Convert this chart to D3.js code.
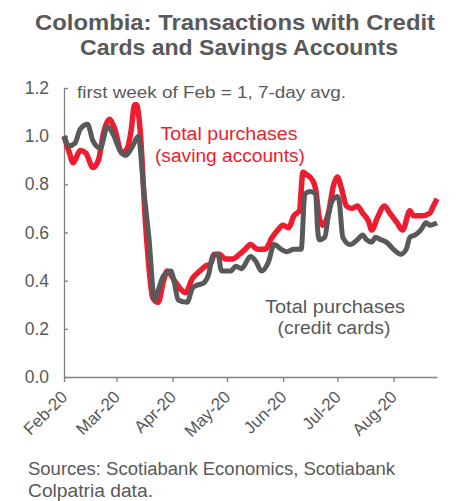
<!DOCTYPE html>
<html><head><meta charset="utf-8">
<script src="https://cdn.jsdelivr.net/npm/d3@7"></script>
<style>body{margin:0;background:#fff;} svg{display:block;font-family:"Liberation Sans",Arial,sans-serif;}</style>
</head><body>
<svg id="c" width="456" height="501"></svg>
<script>
const titleLines = ["Colombia: Transactions with Credit", "Cards and Savings Accounts"];
const yTicks = [0, 0.2, 0.4, 0.6, 0.8, 1.0, 1.2];
const xTickDates = ["2020-02-01","2020-03-01","2020-04-01","2020-05-01","2020-06-01","2020-07-01","2020-08-01"];
const xTickLabels = ["Feb-20","Mar-20","Apr-20","May-20","Jun-20","Jul-20","Aug-20"];

const savingsDates = ["2020-02-01","2020-02-04","2020-02-06","2020-02-10","2020-02-13","2020-02-17","2020-02-20","2020-02-23","2020-02-26","2020-02-29",
"2020-03-04","2020-03-07","2020-03-09","2020-03-11","2020-03-12","2020-03-14","2020-03-17","2020-03-19","2020-03-21","2020-03-24","2020-03-27","2020-03-29",
"2020-04-02","2020-04-06","2020-04-08","2020-04-12","2020-04-16","2020-04-19","2020-04-22","2020-04-24","2020-04-27","2020-04-30",
"2020-05-04","2020-05-08","2020-05-11","2020-05-14","2020-05-18","2020-05-22","2020-05-26","2020-05-29",
"2020-06-01","2020-06-04","2020-06-07","2020-06-10","2020-06-12","2020-06-14","2020-06-17","2020-06-19","2020-06-21","2020-06-23","2020-06-26","2020-06-29",
"2020-07-01","2020-07-03","2020-07-06","2020-07-09","2020-07-12","2020-07-15","2020-07-18","2020-07-20","2020-07-23","2020-07-27","2020-07-30",
"2020-08-03","2020-08-06","2020-08-10","2020-08-12","2020-08-17","2020-08-21","2020-08-23","2020-08-25"];
const savingsValues = [1.00,0.93,0.89,0.94,0.93,0.87,0.90,1.02,1.07,1.03,
0.93,0.95,1.02,1.13,1.13,1.03,0.64,0.45,0.33,0.31,0.40,0.44,
0.40,0.36,0.35,0.41,0.44,0.46,0.47,0.51,0.51,0.49,
0.49,0.51,0.53,0.55,0.53,0.53,0.58,0.61,
0.63,0.62,0.67,0.69,0.85,0.84,0.82,0.78,0.66,0.63,0.68,0.80,
0.83,0.79,0.71,0.70,0.71,0.68,0.65,0.61,0.66,0.71,0.68,
0.64,0.61,0.69,0.67,0.67,0.68,0.71,0.74];

const creditDates = ["2020-02-01","2020-02-04","2020-02-07","2020-02-10","2020-02-14","2020-02-17","2020-02-21","2020-02-25","2020-02-28",
"2020-03-03","2020-03-06","2020-03-10","2020-03-13","2020-03-16","2020-03-19","2020-03-22","2020-03-24","2020-03-27","2020-03-31",
"2020-04-02","2020-04-04","2020-04-09","2020-04-12","2020-04-14","2020-04-18","2020-04-21","2020-04-23","2020-04-26","2020-04-28",
"2020-05-03","2020-05-06","2020-05-09","2020-05-14","2020-05-17","2020-05-20","2020-05-24","2020-05-27","2020-05-31",
"2020-06-03","2020-06-07","2020-06-11","2020-06-13","2020-06-16","2020-06-19","2020-06-20","2020-06-21","2020-06-24","2020-06-26","2020-06-28",
"2020-07-01","2020-07-02","2020-07-04","2020-07-08","2020-07-12","2020-07-15","2020-07-17","2020-07-20","2020-07-22","2020-07-25","2020-07-28",
"2020-08-01","2020-08-05","2020-08-08","2020-08-10","2020-08-13","2020-08-16","2020-08-19","2020-08-21","2020-08-25"];
const creditValues = [1.00,0.96,0.97,1.03,1.05,0.98,0.95,1.04,1.01,
0.94,0.92,0.96,1.00,0.78,0.57,0.32,0.36,0.42,0.44,
0.39,0.32,0.31,0.37,0.38,0.39,0.43,0.50,0.51,0.44,
0.44,0.46,0.45,0.50,0.48,0.44,0.48,0.55,0.53,
0.52,0.53,0.53,0.76,0.77,0.76,0.62,0.57,0.58,0.67,0.73,
0.75,0.73,0.58,0.55,0.57,0.59,0.57,0.56,0.58,0.57,0.56,
0.53,0.51,0.53,0.58,0.59,0.61,0.64,0.63,0.64];

const parse = d3.utcParse("%Y-%m-%d");
const svg = d3.select("#c");
const grey = "#595959", red = "#ED1C2E";

const x = d3.scaleUtc().domain([parse("2020-02-01"), parse("2020-08-25")]).range([64, 437]);
const y = d3.scaleLinear().domain([0, 1.2]).range([377, 88]);

// title
const titleLen = [400, 318];
svg.selectAll("text.title").data(titleLines).enter().append("text")
  .attr("x", (d,i) => i ? 239 : 235).attr("y", (d,i) => 30 + i*25)
  .attr("text-anchor", "middle").attr("font-weight", "bold").attr("font-size", 22)
  .attr("textLength", (d,i) => titleLen[i]).attr("lengthAdjust", "spacingAndGlyphs")
  .attr("fill", grey).text(d => d);

// y axis
const yAxis = svg.append("g").attr("transform", "translate(64,0)")
  .call(d3.axisLeft(y).tickValues(yTicks).tickFormat(d3.format(".1f")).tickSizeInner(-4).tickSizeOuter(0).tickPadding(15));
// x axis
const xAxis = svg.append("g").attr("transform", "translate(0,377)")
  .call(d3.axisBottom(x).tickValues(xTickDates.map(parse)).tickFormat((d,i) => xTickLabels[i]).tickSizeInner(5).tickSizeOuter(0));
[yAxis, xAxis].forEach(g => {
  g.select(".domain").attr("stroke", "#808080").attr("stroke-width", 1.3);
  g.selectAll(".tick line").attr("stroke", "#808080").attr("stroke-width", 1.3);
  g.selectAll("text").attr("fill", grey).attr("font-family", "Liberation Sans, Arial, sans-serif");
});
yAxis.selectAll("text").attr("font-size", 17.5);
xAxis.selectAll("text").attr("font-size", 17)
  .attr("text-anchor", "end").attr("dy", 0)
  .attr("transform", "translate(4,21) rotate(-45)").attr("y", 0).attr("x", 0);

// lines
const line = d3.line().x(d => x(d.date)).y(d => y(d.v)).curve(d3.curveMonotoneX);
const savings = savingsDates.map((d,i) => ({date: parse(d), v: savingsValues[i]}));
const credit = creditDates.map((d,i) => ({date: parse(d), v: creditValues[i]}));
svg.append("path").datum(savings).attr("d", line).attr("fill","none").attr("stroke", red).attr("stroke-width", 5.5).attr("stroke-linejoin","round");
svg.append("path").datum(credit).attr("d", line).attr("fill","none").attr("stroke", grey).attr("stroke-width", 5).attr("stroke-linejoin","round");

// annotations
svg.append("text").attr("x", 77).attr("y", 98).attr("font-size", 16).attr("fill", grey)
  .attr("textLength", 269).attr("lengthAdjust", "spacingAndGlyphs").text("first week of Feb = 1, 7-day avg.");
function label(t, cx, yy, len, col) {
  svg.append("text").attr("x", cx).attr("y", yy).attr("text-anchor","middle").attr("font-size", 18).attr("fill", col)
    .attr("textLength", len).attr("lengthAdjust", "spacingAndGlyphs").text(t);
}
label("Total purchases", 229, 140, 137, red);
label("(saving accounts)", 230, 162, 150, red);
label("Total purchases", 335, 313, 140, grey);
label("(credit cards)", 334, 334, 113, grey);

// source
svg.append("text").attr("x", 28).attr("y", 475).attr("font-size", 18).attr("fill", grey)
  .attr("textLength", 367).attr("lengthAdjust", "spacingAndGlyphs").text("Sources: Scotiabank Economics, Scotiabank");
svg.append("text").attr("x", 28).attr("y", 497).attr("font-size", 18).attr("fill", grey)
  .attr("textLength", 125).attr("lengthAdjust", "spacingAndGlyphs").text("Colpatria data.");
</script>
</body></html>
